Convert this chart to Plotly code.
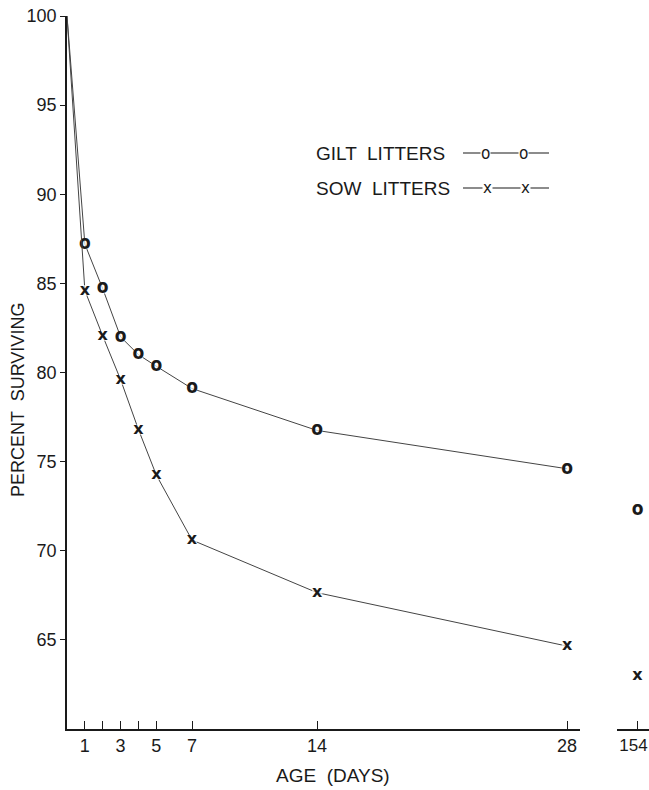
import plotly.graph_objects as go

# Survival of pigs by age, gilt vs sow litters
days = [0, 1, 2, 3, 4, 5, 7, 14, 28]
gilt = [100.0, 87.2, 84.7, 82.0, 81.0, 80.35, 79.1, 76.75, 74.6]
sow = [100.0, 84.6, 82.05, 79.6, 76.8, 74.25, 70.6, 67.65, 64.65]

late_day = [154]
gilt_late = [72.25]
sow_late = [62.95]

x_tickvals = [1, 2, 3, 4, 5, 7, 14, 28]
x_ticktext = ["1", "", "3", "", "5", "7", "14", "28"]
y_tickvals = [65, 70, 75, 80, 85, 90, 95, 100]

FONT = "Liberation Sans"
INK = "#1a1a1a"
W, H = 649, 790
L, R, T, B = 67, 0, 16, 61
PW, PH = W - L - R, H - T - B


def px(xp):
    return (xp - L) / PW


def py(yp):
    return (H - B - yp) / PH


# point glyphs: a narrow ring for gilt litters, a small cross for sow litters
GLYPHS = {
    "o": ("o", dict(family="DejaVu Sans Condensed", size=19, color=INK, weight="bold")),
    "x": ("x", dict(family="DejaVu Sans", size=16, color=INK, weight="bold")),
}


def glyph_trace(x, y, glyph, xaxis, with_line):
    char, font = GLYPHS[glyph]
    # day 0 is the common starting point and carries no glyph
    text = ["" if v == 0 else char for v in x]
    sizes = [0 if v == 0 else 11 for v in x]
    return go.Scatter(
        x=x, y=y, xaxis=xaxis, yaxis="y",
        mode=("lines+markers+text" if with_line else "markers+text"),
        line=dict(color="#444", width=1),
        marker=dict(size=sizes, color="white", line=dict(width=0)),
        text=text, textposition="middle center", textfont=font,
        cliponaxis=False, showlegend=False, hoverinfo="skip",
    )


fig = go.Figure()
fig.add_trace(glyph_trace(days, gilt, "o", "x", True))
fig.add_trace(glyph_trace(days, sow, "x", "x", True))
fig.add_trace(glyph_trace(late_day, gilt_late, "o", "x2", False))
fig.add_trace(glyph_trace(late_day, sow_late, "x", "x2", False))

tickfont = dict(family=FONT, size=18, color=INK)
main_end = 580
fig.update_layout(
    width=W, height=H,
    margin=dict(l=L, r=R, t=T, b=B, autoexpand=False),
    paper_bgcolor="white", plot_bgcolor="white",
    xaxis=dict(
        domain=[0, px(main_end)], range=[0, (main_end - L) / 17.86],
        showline=True, linecolor=INK, linewidth=1.5,
        ticks="inside", ticklen=8, tickcolor=INK, tickwidth=1.2,
        tickvals=x_tickvals, ticktext=x_ticktext, tickfont=tickfont,
        showgrid=False, zeroline=False, anchor="y", automargin=False,
    ),
    xaxis2=dict(
        domain=[px(617), 1.0],
        range=[154 - 20.5 / 17.86, 154 + 11.5 / 17.86],
        showline=True, linecolor=INK, linewidth=1.5,
        ticks="inside", ticklen=8, tickcolor=INK, tickwidth=1.2,
        tickvals=[154], ticktext=["154"],
        tickfont=dict(family=FONT, size=17, color=INK),
        ticklabelshift=-4, ticklabeloverflow="allow",
        showgrid=False, zeroline=False, anchor="y", automargin=False,
    ),
    yaxis=dict(
        domain=[0, 1], range=[60, 100],
        showline=True, linecolor=INK, linewidth=1.5,
        ticks="outside", ticklen=5, tickcolor=INK, tickwidth=1.2,
        tickvals=y_tickvals, tickfont=tickfont, ticklabelstandoff=0,
        showgrid=False, zeroline=False, automargin=False,
    ),
)

annotations = [
    dict(text="PERCENT  SURVIVING", x=px(18), y=py(400), xref="paper", yref="paper",
         textangle=-90, showarrow=False, xanchor="center", yanchor="middle",
         font=dict(family=FONT, size=18, color=INK)),
    dict(text="AGE  (DAYS)", x=px(333), y=py(775), xref="paper", yref="paper",
         showarrow=False, xanchor="center", yanchor="middle",
         font=dict(family=FONT, size=19, color=INK)),
]

# key
key_rows = [("GILT  LITTERS", 153, "o", [485, 523]), ("SOW  LITTERS", 188, "x", [487, 525])]
shapes = []
for label, yrow, glyph, gx in key_rows:
    annotations.append(dict(text=label, x=px(314), y=py(yrow), xref="paper", yref="paper",
                            showarrow=False, xanchor="left", yanchor="middle",
                            font=dict(family=FONT, size=19, color=INK)))
    shapes.append(dict(type="line", xref="paper", yref="paper",
                       x0=px(463), x1=px(549), y0=py(yrow), y1=py(yrow),
                       line=dict(color=INK, width=1.2)))
    char, font = GLYPHS[glyph]
    kfont = dict(font)
    kfont["size"] = 17 if glyph == "o" else 15
    kfont.pop("weight", None)
    for g in gx:
        annotations.append(dict(text=char, x=px(g), y=py(yrow), xref="paper", yref="paper",
                                showarrow=False, xanchor="center", yanchor="middle",
                                bgcolor="white", borderpad=0, font=kfont))

fig.update_layout(annotations=annotations, shapes=shapes)
fig.write_html("out.html")
